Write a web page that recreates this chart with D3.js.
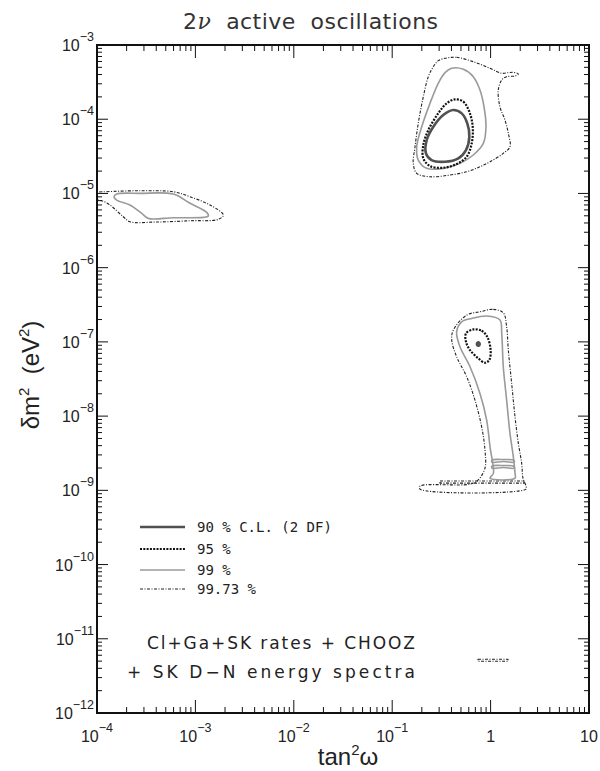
<!DOCTYPE html>
<html><head><meta charset="utf-8">
<script src="https://cdn.jsdelivr.net/npm/d3@7"></script>
<style>body{margin:0;background:#fff}svg{display:block}</style>
</head><body>
<svg id="c" width="600" height="771"></svg>
<script>
// ---------- data ----------
const titleText = "2ν active oscillations";
const xTickExps = [-4, -3, -2, -1, 0, 1];
const xTickLabels = [["10","−4"],["10","−3"],["10","−2"],["10","−1"],["1",""],["10",""]];
const yTickExps = [-3, -4, -5, -6, -7, -8, -9, -10, -11, -12];
const yTickLabels = yTickExps.map(e => ["10", "−" + Math.abs(e)]);
const levelNames = ["90 % C.L. (2 DF)", "95 %", "99 %", "99.73 %"];
const noteLines = ["Cl+Ga+SK rates + CHOOZ", "+ SK D−N energy spectra"];

// contours: [log10 tan²ω, log10 δm²]
const lma90 = [[-0.379,-3.876],[-0.294,-3.921],[-0.237,-4.055],[-0.216,-4.236],[-0.250,-4.415],[-0.328,-4.527],[-0.463,-4.573],[-0.600,-4.550],[-0.657,-4.460],[-0.649,-4.280],[-0.582,-4.101],[-0.481,-3.943]];
const lma95 = [[-0.362,-3.732],[-0.277,-3.764],[-0.216,-3.899],[-0.182,-4.101],[-0.192,-4.325],[-0.243,-4.505],[-0.345,-4.604],[-0.481,-4.654],[-0.616,-4.631],[-0.684,-4.527],[-0.684,-4.348],[-0.633,-4.146],[-0.532,-3.921],[-0.446,-3.786]];
const lma99 = [[-0.395,-3.314],[-0.277,-3.328],[-0.176,-3.427],[-0.108,-3.606],[-0.067,-3.832],[-0.047,-4.101],[-0.074,-4.325],[-0.176,-4.482],[-0.311,-4.594],[-0.481,-4.662],[-0.649,-4.662],[-0.735,-4.550],[-0.751,-4.371],[-0.700,-4.101],[-0.616,-3.786],[-0.532,-3.516],[-0.463,-3.373]];
const lma9973 = [[-0.463,-3.179],[-0.345,-3.166],[-0.176,-3.225],[-0.006,-3.314],[0.113,-3.381],[0.180,-3.373],[0.231,-3.368],[0.282,-3.391],[0.248,-3.418],[0.163,-3.427],[0.113,-3.472],[0.078,-3.606],[0.095,-3.832],[0.146,-4.011],[0.180,-4.190],[0.197,-4.371],[0.129,-4.460],[-0.006,-4.573],[-0.108,-4.640],[-0.243,-4.708],[-0.413,-4.752],[-0.616,-4.775],[-0.751,-4.729],[-0.786,-4.594],[-0.768,-4.371],[-0.735,-4.055],[-0.684,-3.697],[-0.633,-3.427],[-0.582,-3.292],[-0.532,-3.211]];
const sma99 = [[-3.800,-5.008],[-3.563,-4.999],[-3.225,-5.008],[-3.055,-5.133],[-2.885,-5.255],[-2.869,-5.305],[-2.920,-5.322],[-3.225,-5.327],[-3.479,-5.336],[-3.546,-5.268],[-3.665,-5.156],[-3.800,-5.089],[-3.827,-5.044]];
const sma9973 = [[-3.987,-4.990],[-3.901,-4.977],[-3.563,-4.964],[-3.225,-4.977],[-3.055,-5.044],[-2.852,-5.156],[-2.716,-5.291],[-2.767,-5.349],[-3.055,-5.368],[-3.394,-5.385],[-3.665,-5.381],[-3.733,-5.314],[-3.868,-5.156],[-3.952,-5.098],[-3.987,-5.089]];
const low90 = [[-0.125,-7.005],[-0.113,-7.017],[-0.113,-7.041],[-0.125,-7.053],[-0.137,-7.041],[-0.137,-7.017]];
const low95 = [[-0.176,-6.832],[-0.091,-6.851],[-0.034,-6.931],[0.000,-7.110],[-0.014,-7.245],[-0.057,-7.281],[-0.125,-7.222],[-0.209,-7.110],[-0.250,-6.999],[-0.250,-6.885]];
const low99 = [[-0.192,-6.684],[-0.040,-6.652],[0.095,-6.706],[0.113,-6.885],[0.129,-7.335],[0.163,-7.784],[0.197,-8.233],[0.231,-8.548],[0.248,-8.772],[0.248,-8.836],[-0.006,-8.836],[0.028,-8.772],[-0.006,-8.414],[-0.040,-8.054],[-0.108,-7.694],[-0.209,-7.335],[-0.311,-7.066],[-0.345,-6.864],[-0.294,-6.729]];
const low99w = [
  [[0.014,-8.593],[0.130,-8.585],[0.238,-8.597],[0.238,-8.620],[0.130,-8.612],[0.014,-8.620]],
  [[0.014,-8.674],[0.130,-8.666],[0.238,-8.678],[0.238,-8.701],[0.130,-8.693],[0.014,-8.701]]
];
const low9973 = [[-0.108,-6.594],[0.028,-6.562],[0.129,-6.608],[0.163,-6.797],[0.180,-7.110],[0.214,-7.559],[0.248,-8.009],[0.282,-8.368],[0.316,-8.637],[0.329,-8.836],[0.360,-8.943],[0.360,-8.984],[-0.717,-8.984],[-0.717,-8.943],[-0.209,-8.916],[-0.128,-8.862],[-0.057,-8.700],[-0.057,-8.458],[-0.091,-8.144],[-0.159,-7.784],[-0.243,-7.470],[-0.345,-7.201],[-0.395,-6.976],[-0.379,-6.841],[-0.243,-6.639]];
const low9973b = [[-0.514,-8.875],[0.339,-8.875],[0.339,-8.903],[-0.514,-8.903]];
const tiny9973 = [[-0.128,-11.275],[0.177,-11.275],[0.177,-11.302],[-0.128,-11.302]];

// ---------- layout ----------
const svg = d3.select("#c");
const L = 97, R = 589, T = 45, B = 713;
const x = d3.scaleLog().domain([1e-4, 10]).range([L, R]);
const y = d3.scaleLog().domain([1e-12, 1e-3]).range([B, T]);

const styles = {
  c90:  {stroke:"#505050", width:2.6, dash:null},
  c95:  {stroke:"#111", width:2.2, dash:"2,1.3"},
  c99:  {stroke:"#9a9a9a", width:1.6, dash:null},
  c9973:{stroke:"#222", width:1.1, dash:"3,1.5,1,1.5"}
};

svg.append("defs").append("clipPath").attr("id","pc")
  .append("rect").attr("x",L).attr("y",T).attr("width",R-L).attr("height",B-T);

const g = svg.append("g").attr("clip-path","url(#pc)");
const line = d3.line().x(d => x(Math.pow(10,d[0]))).y(d => y(Math.pow(10,d[1])))
  .curve(d3.curveCatmullRomClosed.alpha(0.5));
const lineLin = d3.line().x(d => x(Math.pow(10,d[0]))).y(d => y(Math.pow(10,d[1])))
  .curve(d3.curveLinearClosed);

function draw(pts, st, lin){
  g.append("path").attr("d", (lin?lineLin:line)(pts)).attr("fill","none")
    .attr("stroke", st.stroke).attr("stroke-width", st.width)
    .attr("stroke-dasharray", st.dash).attr("stroke-linejoin","round");
}
draw(sma9973, styles.c9973);
draw(sma99, styles.c99);
draw(lma9973, styles.c9973);
draw(lma99, styles.c99);
draw(lma95, styles.c95);
draw(lma90, styles.c90);
draw(low9973, styles.c9973);
draw(low9973b, styles.c9973, true);
draw(tiny9973, styles.c9973, true);
draw(low99, styles.c99);
low99w.forEach(w => draw(w, styles.c99));
draw(low95, styles.c95);
draw(low90, styles.c90);

// ---------- frame & ticks ----------
const ax = svg.append("g").attr("stroke","#111");
ax.append("rect").attr("x",L).attr("y",T).attr("width",R-L).attr("height",B-T)
  .attr("fill","none").attr("stroke-width",2);
const xMinor = [], yMinor = [];
for (let e = -4; e < 1; e++) for (let m = 2; m <= 9; m++) xMinor.push(m*Math.pow(10,e));
for (let e = -12; e < -3; e++) for (let m = 2; m <= 9; m++) yMinor.push(m*Math.pow(10,e));
const xMaj = xTickExps.map(e => Math.pow(10,e));
const yMaj = yTickExps.map(e => Math.pow(10,e));
function vt(v, len){
  ax.append("line").attr("x1",x(v)).attr("x2",x(v)).attr("y1",B).attr("y2",B-len).attr("stroke-width",1);
  ax.append("line").attr("x1",x(v)).attr("x2",x(v)).attr("y1",T).attr("y2",T+len).attr("stroke-width",1);
}
function ht(v, len){
  ax.append("line").attr("y1",y(v)).attr("y2",y(v)).attr("x1",L).attr("x2",L+len).attr("stroke-width",1);
  ax.append("line").attr("y1",y(v)).attr("y2",y(v)).attr("x1",R).attr("x2",R-len).attr("stroke-width",1);
}
xMinor.forEach(v => vt(v,6)); xMaj.forEach(v => vt(v,13));
yMinor.forEach(v => ht(v,5)); yMaj.forEach(v => ht(v,11));

// ---------- labels ----------
const font = "'Liberation Sans', Arial, sans-serif";
xMaj.forEach((v,i) => {
  const t = svg.append("text").attr("x", x(v)).attr("y", 742).attr("text-anchor","middle")
    .attr("font-family",font).attr("font-size",16).attr("fill","#222");
  t.append("tspan").text(xTickLabels[i][0]);
  if (xTickLabels[i][1]) t.append("tspan").attr("dy",-10).attr("font-size",12.5).text(xTickLabels[i][1]);
});
yMaj.forEach((v,i) => {
  const t = svg.append("text").attr("x", 94).attr("y", y(v)+6).attr("text-anchor","end")
    .attr("font-family",font).attr("font-size",16).attr("fill","#222");
  t.append("tspan").text(yTickLabels[i][0]);
  t.append("tspan").attr("dy",-10).attr("font-size",12.5).text(yTickLabels[i][1]);
});

// title
const tt = svg.append("text").attr("x",183).attr("y",29)
  .attr("font-family","'DejaVu Sans', sans-serif").attr("font-size",22).attr("fill","#333")
  .attr("textLength",255).attr("lengthAdjust","spacing");
tt.append("tspan").text("2");
tt.append("tspan").attr("font-style","italic").attr("font-family","'DejaVu Serif', serif").text("ν");
tt.append("tspan").attr("xml:space","preserve").text("  active  oscillations");

// x title
const xt = svg.append("text").attr("x",348).attr("y",765).attr("text-anchor","middle")
  .attr("font-family",font).attr("font-size",24).attr("fill","#222");
xt.append("tspan").text("tan");
xt.append("tspan").attr("dy",-10).attr("font-size",15).text("2");
xt.append("tspan").attr("dy",10).text("ω");

// y title
const yt = svg.append("text").attr("transform","translate(39,375) rotate(-90)").attr("text-anchor","middle")
  .attr("font-family",font).attr("font-size",24).attr("fill","#222");
yt.append("tspan").text("δm");
yt.append("tspan").attr("dy",-10).attr("font-size",15).text("2");
yt.append("tspan").attr("dy",10).attr("xml:space","preserve").text("  (eV");
yt.append("tspan").attr("dy",-10).attr("font-size",15).text("2");
yt.append("tspan").attr("dy",10).text(")");

// legend
const legY = [527, 549, 570, 589];
const legStyles = [styles.c90, styles.c95, styles.c99, styles.c9973];
levelNames.forEach((n,i) => {
  const st = legStyles[i];
  svg.append("line").attr("x1",140).attr("x2",185).attr("y1",legY[i]).attr("y2",legY[i])
    .attr("stroke",st.stroke).attr("stroke-width",st.width).attr("stroke-dasharray",st.dash);
  svg.append("text").attr("x",197).attr("y",legY[i]+5).attr("font-family","'DejaVu Sans Mono', monospace")
    .attr("font-size",14).attr("fill","#222").attr("xml:space","preserve").text(n);
});

// note
const nf = "'DejaVu Sans', sans-serif";
svg.append("text").attr("x",147).attr("y",649).attr("font-family",nf).attr("font-size",17)
  .attr("fill","#222").attr("textLength",268).attr("lengthAdjust","spacing").text(noteLines[0]);
svg.append("text").attr("x",127).attr("y",678).attr("font-family",nf).attr("font-size",17)
  .attr("fill","#222").attr("textLength",288).attr("lengthAdjust","spacing").text(noteLines[1]);
</script>
</body></html>
